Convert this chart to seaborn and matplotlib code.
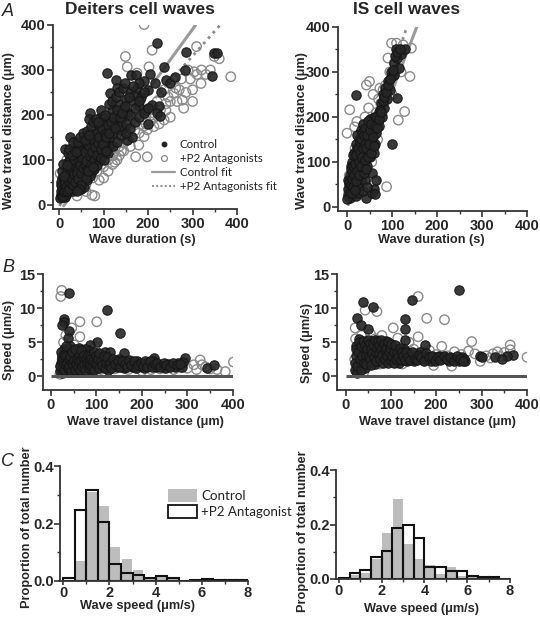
import numpy as np
import pandas as pd
import matplotlib
matplotlib.use("Agg")
import matplotlib.pyplot as plt
import seaborn as sns
from matplotlib.lines import Line2D
from matplotlib.patches import Patch
from matplotlib.ticker import MultipleLocator

# ---------------- data ----------------
# Panel A left: Deiters cell waves, (duration s, distance um)
dei_ctrl_A = [
    (3,22),(5,30),(8,25),(10,40),(4,45),(12,18),(15,35),(18,50),(7,60),(14,65),(20,28),(22,45),(25,60),
    (28,38),(30,75),(32,55),(35,90),(38,65),(40,45),(42,100),(45,80),(48,115),(50,60),(52,95),(55,125),
    (58,75),(60,105),(62,140),(65,90),(68,120),(70,150),(72,70),(75,110),(78,135),(80,160),(82,95),
    (85,145),(88,120),(90,175),(92,130),(95,155),(98,110),(100,180),(105,140),(108,165),(110,195),
    (115,150),(118,210),(120,175),(125,185),(130,200),(135,225),(140,190),(145,215),(150,235),(155,205),
    (160,250),(165,230),(170,245),(175,260),(180,220),(185,240),(190,275),(200,255),
    (219,359),(285,341),(349,338),(355,338),(343,287),(283,299),(108,294),(128,278),(162,289),(172,289),
    (180,270),(236,307),(241,278),(209,222),(224,219),(221,204),(227,198),(157,241),(130,259),(115,248),
    (70,204),(66,191),(93,196),(25,152),(12,124),(36,131),(100,144),(123,174),(138,167),(153,144),
    (164,152),(250,270),(260,285),(230,250),(200,180),(195,210),
    (5,50),(10,55),(15,80),(20,95),(25,105),(30,120),(35,110),(40,125),(45,130),(50,140),(55,100),
    (60,85),(65,70),(70,95),(75,80),(80,115),(85,100),(90,110),(20,70),(25,40),(30,30),(35,45),(40,60),
    (45,50),(50,35),(8,35),(12,50),(16,25),(27,85),(33,100),(44,95),(56,110),(64,125),(74,130),(86,160),
    (96,140),(104,120),(112,130),(120,160),(140,175),(150,180),(160,200),(170,215),(180,230),
    (2,15),(6,18),(9,20),(11,28),(13,32),(16,40),(18,30),(21,36),(23,52),(26,48),(29,58),(31,44),(34,68),
    (36,52),(39,78),(41,70),(43,58),(46,88),(49,72),(51,105),(53,82),(57,92),(59,118),(61,98),(63,78),
    (66,132),(69,108),(71,88),(73,118),(76,145),(79,100),(81,128),(84,112),(87,138),(89,152),(91,100),
    (94,125),(97,168),(99,135),(102,158),(106,150),(109,178),(113,160),(117,185),(121,195),(126,170),
    (131,210),(136,195),(142,205),(148,220),(6,75),(9,90),(11,65),(17,88),(19,115),(23,125),(28,110),
    (32,140),(38,118),(43,140),(47,150),(53,160),(57,145),(63,165),(67,155),(72,175),(77,185),(83,190),
    (88,185),(94,210),(103,200),(111,225),(119,230),(127,240),(134,250),(143,260),(147,270),(165,265),
    (190,250),(205,290),(215,270),
    (55,40),(62,55),(70,65),(78,80),(85,88),(95,105),(100,100),(110,115),(120,130),(130,140),(140,155),
    (150,160),(160,170),(170,185),(180,195),(190,205),(200,215),(60,60),(50,45),(45,35),(40,30),(65,75),
    (75,85),(105,120),
]
dei_p2_A = [
    (2,70),(5,20),(8,30),(10,45),(15,25),(17,100),(20,55),(25,35),(30,65),(35,40),(40,80),(45,55),(50,95),
    (55,65),(60,45),(65,110),(70,80),(74,22),(75,60),(80,100),(85,75),(90,120),(95,90),(100,85),(105,130),
    (110,100),(115,140),(120,110),(123,115),(130,159),(135,130),(140,150),(145,137),(150,170),(155,145),
    (160,180),(164,196),(170,165),(172,107),(175,200),(179,133),(183,233),(185,190),(191,152),(191,401),
    (195,180),(198,107),(198,167),(202,211),(202,307),(209,344),(210,200),(213,174),(220,230),(228,211),
    (236,189),(236,256),(245,240),(258,248),(258,278),(265,230),(270,256),(277,233),(285,250),(300,256),
    (300,230),(304,296),(309,352),(319,270),(330,290),(340,300),(349,330),(360,325),(386,285),(149,330),
    (175,293),(153,307),(280,215),(275,280),(290,300),(240,210),(250,195),(100,60),(120,90),(90,55),
    (60,30),(130,100),(140,120),(40,20),(80,20),(55,45),
    (110,75),(125,95),(135,110),(145,120),(160,130),(165,150),(180,160),(190,175),(205,185),(215,195),
    (225,180),(240,225),(250,230),(262,260),(295,280),(310,290),(320,300),(62,70),(72,90),(82,85),
    (92,100),(102,110),(115,120),
]
# Panel A right: IS cell waves
is_ctrl_A = [
    (2,25),(4,35),(5,50),(6,20),(8,60),(10,40),(12,75),(14,30),(15,95),(16,55),(18,110),(20,70),(20,25),
    (22,130),(24,90),(25,45),(26,150),(28,105),(30,60),(30,170),(32,125),(34,80),(35,140),(36,185),
    (38,100),(40,155),(40,60),(42,120),(44,175),(45,90),(46,140),(48,160),(50,110),(50,195),(52,130),
    (55,150),(55,75),(58,170),(60,120),(60,200),(62,140),(65,165),(68,190),(70,210),(72,180),(75,230),
    (78,200),(80,250),(82,220),(85,265),(88,240),(90,280),(95,260),(98,300),(100,290),(104,294),
    (105,320),(108,351),(110,242),(112,330),(115,308),(120,340),(128,350),(99,141),(19,248),(43,19),
    (24,30),(55,30),(60,40),(35,35),(45,45),(65,60),(3,60),(8,90),(12,100),(16,120),
    (1,18),(3,40),(4,55),(6,32),(7,70),(9,48),(9,85),(11,62),(11,30),(13,45),(13,90),(14,115),(16,72),
    (17,38),(18,95),(19,140),(21,58),(21,115),(23,80),(23,160),(25,130),(26,100),(27,70),(28,145),
    (29,120),(31,90),(31,150),(33,110),(33,165),(35,130),(37,75),(37,160),(39,140),(41,105),(41,175),
    (43,130),(43,85),(45,160),(47,110),(47,190),(49,140),(51,170),(53,120),(54,185),(57,155),(59,135),
    (62,180),(64,200),(67,175),(70,195),(73,215),(76,210),(79,235),(83,245),(86,255),(92,270),(96,285),
    (102,305),(106,335),(111,345),(117,350),(62,28),
]
is_p2_A = [
    (0,164),(6,216),(17,178),(43,271),(50,279),(62,56),(88,45),(91,331),(80,260),(73,264),(99,364),
    (110,364),(143,353),(140,290),(128,212),(114,193),(5,70),(10,40),(15,25),(20,100),(25,60),(30,140),
    (35,90),(40,200),(45,120),(50,160),(55,100),(60,180),(65,210),(70,240),(75,230),(85,270),(95,300),
    (105,320),(115,340),(125,360),(8,30),(12,55),(3,28),(28,35),(18,130),(22,190),(33,75),(38,180),
    (48,220),(58,250),(68,150),(78,205),(100,250),(120,300),
]
# Panel B left: Deiters, (travel distance um, speed um/s)
dei_ctrl_B = [
    (39,12.2),(28,8.4),(28,8.0),(24,7.5),(123,9.7),(151,6.4),(40,6.6),(37,5.6),(101,5.1),(86,4.6),
    (160,3.4),(226,2.7),(295,2.7),(343,1.2),(358,1.7),
    (20,0.8),(22,2.0),(25,3.0),(27,1.2),(30,4.0),(32,2.5),(35,0.6),(38,1.8),(40,3.5),(42,4.5),(45,1.0),
    (48,2.8),(50,3.9),(52,1.5),(55,2.2),(58,3.2),(60,0.9),(62,4.2),(65,1.8),(68,2.7),(70,3.6),(72,1.2),
    (75,2.2),(78,3.0),(80,1.5),(82,3.8),(85,2.5),(88,1.0),(90,2.0),(92,3.2),(95,1.6),(98,2.6),(100,1.2),
    (105,3.0),(108,2.0),(110,1.4),(115,2.5),(118,3.5),(120,1.8),(125,1.0),(128,2.4),(130,3.5),(135,1.6),
    (140,2.2),(145,1.3),(150,2.6),(155,1.8),(160,1.2),(165,2.2),(170,1.6),(175,2.0),(180,1.3),(185,1.8),
    (190,2.2),(195,1.5),(200,1.7),(205,1.2),(210,2.0),(215,1.5),(220,1.8),(225,2.2),(230,1.4),(238,1.7),
    (245,1.5),(250,1.2),(258,1.8),(265,1.6),(272,1.3),(280,1.9),(288,1.4),(290,2.1),(30,1.5),(45,2.2),
    (55,3.0),(65,3.0),(75,4.0),(25,2.5),(35,3.5),(50,0.8),
    (21,1.5),(23,3.5),(24,0.5),(26,2.2),(28,3.2),(29,0.9),(31,1.8),(33,3.0),(34,4.5),(36,2.0),(37,1.2),
    (39,2.6),(41,1.5),(43,3.0),(44,0.8),(46,2.0),(47,3.6),(49,1.6),(51,2.4),(53,4.0),(54,1.0),(56,1.8),
    (57,2.6),(59,1.4),(61,3.0),(63,2.2),(64,1.0),(66,2.4),(67,3.8),(69,1.5),(71,2.8),(73,1.8),(74,3.2),
    (76,1.0),(77,2.6),(79,2.0),(81,3.2),(83,1.2),(84,2.0),(86,3.0),(87,1.6),(89,2.6),(91,1.3),(93,2.3),
    (94,3.6),(96,1.0),(97,2.0),(99,3.0),(102,1.8),(103,2.6),(106,1.2),(107,3.4),(111,2.2),(113,1.6),
    (116,3.0),(119,1.2),(122,2.0),(124,2.8),(127,1.6),(131,2.0),(133,1.2),(137,2.6),(142,1.8),(147,2.2),
    (152,1.4),(157,2.2),(162,1.8),(167,1.4),(172,2.4),(177,1.6),(182,2.2),(187,1.2),(192,1.6),(197,2.0),
    (203,1.5),(207,2.2),(212,1.3),(218,2.2),(222,1.4),(228,1.8),(233,2.0),(240,1.4),(248,1.9),(253,1.6),
    (262,1.3),(268,2.0),(276,1.6),(284,1.8),
]
dei_p2_B = [
    (24,12.6),(22,11.7),(64,8.0),(101,8.0),(46,7.1),(64,5.8),(97,4.4),(328,2.4),(332,1.7),(383,0.7),
    (401,2.1),(314,1.7),(255,1.2),(20,0.3),(22,1.5),(25,2.5),(28,5.0),(30,0.5),(35,1.0),(40,2.0),
    (45,3.0),(50,0.6),(55,1.5),(60,2.5),(70,0.8),(75,1.7),(80,2.8),(90,0.9),(95,1.9),(110,1.0),
    (120,2.0),(140,1.1),(150,1.5),(170,1.0),(190,1.2),(200,0.8),(220,1.0),(240,1.1),(270,1.0),(285,1.3),
    (300,1.2),(320,1.0),(340,1.4),(350,1.1),(365,1.0),(42,4.0),(52,4.6),(33,6.0),
]
# Panel B right: IS
is_ctrl_B = [
    (249,12.6),(39,10.9),(61,10.1),(147,11.2),(26,8.5),(35,7.5),(50,7.0),(131,8.4),(131,7.0),(131,5.4),
    (175,4.6),(264,2.2),(297,3.0),(370,3.2),(355,3.0),(300,2.8),
    (20,1.0),(22,3.0),(24,4.5),(26,0.5),(28,2.0),(30,5.5),(32,3.5),(34,1.5),(36,4.8),(38,2.5),(40,3.8),
    (42,1.2),(45,5.0),(48,2.8),(50,4.2),(52,2.0),(55,3.2),(58,5.2),(60,2.4),(62,3.8),(65,1.8),(68,4.6),
    (70,3.0),(72,2.2),(75,5.0),(78,3.6),(80,2.6),(82,4.4),(85,3.0),(88,5.2),(90,2.2),(92,3.8),(95,4.6),
    (98,2.8),(100,3.4),(105,4.2),(108,2.4),(110,3.0),(115,3.8),(118,2.0),(120,3.2),(125,2.6),(128,4.0),
    (132,3.0),(135,2.2),(140,3.4),(145,2.8),(150,2.2),(155,3.2),(160,2.6),(165,3.6),(170,2.4),(175,3.0),
    (180,2.6),(188,2.2),(195,2.8),(200,2.5),(205,3.0),(212,2.6),(220,2.8),(228,2.3),(235,2.7),(242,2.5),
    (250,2.2),(256,2.9),(262,2.6),(330,2.8),(345,2.6),
    (21,2.0),(23,4.0),(25,1.5),(27,3.5),(29,5.0),(31,2.5),(33,4.4),(35,1.0),(37,3.0),(39,5.2),(41,2.0),
    (43,4.6),(44,3.2),(46,1.8),(47,4.0),(49,5.4),(51,3.0),(53,4.8),(54,2.6),(56,4.0),(57,1.6),(59,3.4),
    (61,4.8),(63,2.8),(64,5.4),(66,3.6),(67,2.2),(69,4.2),(71,5.2),(73,3.4),(74,4.6),(76,2.6),(77,4.0),
    (79,5.4),(81,3.2),(83,2.0),(84,4.8),(86,3.8),(87,2.6),(89,4.2),(91,3.0),(93,5.0),(94,2.0),(96,3.6),
    (97,4.2),(99,2.4),(101,4.8),(103,3.0),(106,2.0),(107,3.6),(109,4.6),(112,2.6),(113,3.4),(116,2.8),
    (119,4.2),(122,2.4),(124,3.6),(127,3.0),(130,2.4),(134,3.6),(137,2.8),(142,2.4),(147,3.6),(152,2.6),
    (157,2.4),(162,3.2),(167,2.8),(172,2.2),(178,3.4),(184,2.8),(191,3.0),(198,2.2),(203,2.8),(208,2.4),
    (216,3.0),(224,2.5),(231,2.8),(238,2.2),(246,3.0),(253,2.5),(259,2.2),
]
is_p2_B = [
    (160,11.7),(179,8.5),(218,8.3),(43,9.7),(69,9.5),(21,7.1),(105,7.1),(278,5.1),(363,4.6),(363,3.9),
    (400,2.8),(297,2.2),(341,2.9),(319,2.7),(194,1.6),(234,1.5),(153,3.4),(212,4.4),(271,3.7),(20,2.5),
    (22,5.5),(25,0.8),(30,1.5),(35,6.0),(40,0.6),(50,2.0),(55,6.2),(65,5.5),(75,1.8),(80,6.0),(95,4.8),
    (110,2.0),(115,5.6),(125,1.8),(140,5.0),(150,4.0),(160,5.8),(170,3.5),(185,3.8),(200,3.2),(225,3.0),
    (240,3.6),(255,3.2),(285,3.3),(310,3.0),(325,3.3),(350,3.5),(335,3.6),
]
# Fit lines (end points)
dei_ctrl_fit_x = [10, 307]
dei_ctrl_fit_y = [-2, 400]
dei_p2_fit_x = [0, 364]
dei_p2_fit_y = [-2, 402]
is_ctrl_fit_x = [3, 155]
is_ctrl_fit_y = [5, 400]
is_p2_fit_x = [2, 133]
is_p2_fit_y = [6, 400]

# Panel C: histograms of wave speed (proportion of total number), bins of 0.5 um/s
bin_left = [0.0, 0.5, 1.0, 1.5, 2.0, 2.5, 3.0, 3.5, 4.0, 4.5, 5.0, 5.5, 6.0, 6.5, 7.0, 7.5]
bin_edges = bin_left + [8.0]
dei_hist_ctrl = [0.005, 0.071, 0.31, 0.26, 0.117, 0.077, 0.037, 0.012, 0.017, 0.014, 0.0, 0.0, 0.008, 0.002, 0.0, 0.0]
dei_hist_p2 = [0.009, 0.246, 0.318, 0.206, 0.059, 0.029, 0.021, 0.011, 0.018, 0.009, 0.0, 0.002, 0.006, 0.003, 0.002, 0.002]
is_hist_ctrl = [0.003, 0.015, 0.021, 0.074, 0.17, 0.293, 0.127, 0.074, 0.052, 0.018, 0.045, 0.012, 0.006, 0.004, 0.002, 0.0]
is_hist_p2 = [0.005, 0.021, 0.033, 0.08, 0.102, 0.188, 0.2, 0.15, 0.043, 0.043, 0.031, 0.031, 0.01, 0.006, 0.009, 0.0]

# ---------------- styling ----------------
sns.set_style("ticks")
plt.rcParams["font.family"] = ["Liberation Sans", "DejaVu Sans"]
plt.rcParams["font.weight"] = "bold"
plt.rcParams["axes.edgecolor"] = "#333333"
plt.rcParams["axes.linewidth"] = 1.3

W, H = 540, 619
fig = plt.figure(figsize=(W / 100, H / 100), dpi=100)

def add_ax(l, t, r, b):
    return fig.add_axes([l / W, 1 - b / H, (r - l) / W, (b - t) / H])

def ftext(x, y, s, **kw):
    fig.text(x / W, 1 - y / H, s, ha=kw.pop("ha", "center"), va=kw.pop("va", "center"), **kw)

CTRL_FACE = "#262626"
P2_EDGE = "#8a8a8a"
MS = 46

def style_axis(ax, pad=1.5):
    ax.tick_params(which="major", direction="out", length=4, width=1.2, labelsize=10.5, pad=pad, color="#333333")
    ax.tick_params(which="minor", direction="out", length=2.2, width=1.0, color="#333333")
    for sp in ("top", "right"):
        ax.spines[sp].set_visible(False)
    ax.set_xlabel("")
    ax.set_ylabel("")

def scatter_panel(ax, ctrl, p2):
    cdf = pd.DataFrame(ctrl, columns=["x", "y"])
    pdf = pd.DataFrame(p2, columns=["x", "y"])
    sns.scatterplot(data=pdf, x="x", y="y", ax=ax, s=MS, facecolor="none",
                    edgecolor=P2_EDGE, linewidth=1.0, zorder=2, clip_on=True)
    sns.scatterplot(data=cdf, x="x", y="y", ax=ax, s=MS, color=CTRL_FACE,
                    edgecolor="#141414", linewidth=0.8, alpha=0.9, zorder=3, clip_on=True)

# ---- Panel A left
axA1 = add_ax(53, 25, 237, 209)
sns.lineplot(x=dei_ctrl_fit_x, y=dei_ctrl_fit_y, ax=axA1, color="#9a9a9a", lw=2.2, zorder=1)
sns.lineplot(x=dei_p2_fit_x, y=dei_p2_fit_y, ax=axA1, color="#8a8a8a", lw=2.0, ls=(0, (1, 1.6)), zorder=1)
scatter_panel(axA1, dei_ctrl_A, dei_p2_A)
axA1.set_xlim(-14, 400); axA1.set_ylim(-9, 400)

# ---- Panel A right
axA2 = add_ax(338, 27, 527, 211)
sns.lineplot(x=is_ctrl_fit_x, y=is_ctrl_fit_y, ax=axA2, color="#9a9a9a", lw=2.2, zorder=1)
sns.lineplot(x=is_p2_fit_x, y=is_p2_fit_y, ax=axA2, color="#8a8a8a", lw=2.0, ls=(0, (1, 1.6)), zorder=1)
scatter_panel(axA2, is_ctrl_A, is_p2_A)
axA2.set_xlim(-20, 400); axA2.set_ylim(-9, 400)

for ax in (axA1, axA2):
    ax.set_xticks([0, 100, 200, 300, 400]); ax.set_yticks([0, 100, 200, 300, 400])
    ax.xaxis.set_minor_locator(MultipleLocator(50)); ax.yaxis.set_minor_locator(MultipleLocator(50))
    style_axis(ax)

# ---- Panel B
axB1 = add_ax(43, 274, 233, 390)
scatter_panel(axB1, dei_ctrl_B, dei_p2_B)
axB1.set_xlim(-17, 400); axB1.set_ylim(-2, 15)
axB2 = add_ax(337, 274, 527, 390)
scatter_panel(axB2, is_ctrl_B, is_p2_B)
axB2.set_xlim(-19, 400); axB2.set_ylim(-2, 15)
for ax in (axB1, axB2):
    ax.hlines(0, 0, 400, color="#555555", lw=2.2, zorder=5)
    ax.set_xticks([0, 100, 200, 300, 400]); ax.set_yticks([0, 5, 10, 15])
    ax.xaxis.set_minor_locator(MultipleLocator(50)); ax.yaxis.set_minor_locator(MultipleLocator(2.5))
    style_axis(ax)

# ---- Panel C
def hist_panel(ax, ctrl, p2):
    sns.histplot(x=bin_left, weights=ctrl, bins=bin_edges, ax=ax, stat="count", color="#bdbdbd",
                 alpha=1.0, edgecolor="none", linewidth=0, shrink=0.9, zorder=1)
    sns.histplot(x=bin_left, weights=p2, bins=bin_edges, ax=ax, stat="count", fill=False,
                 color="#111111", linewidth=1.5, zorder=2)
    ax.set_xlim(-0.14, 8); ax.set_ylim(0, 0.4)
    ax.set_xticks([0, 2, 4, 6, 8]); ax.set_yticks([0.0, 0.2, 0.4])
    ax.set_yticklabels(["0.0", "0.2", "0.4"])
    ax.xaxis.set_minor_locator(MultipleLocator(1)); ax.yaxis.set_minor_locator(MultipleLocator(0.1))
    style_axis(ax, pad=0.5)
    ax.tick_params(axis="x", which="major", length=3)

axC1 = add_ax(60, 466, 248, 581)
hist_panel(axC1, dei_hist_ctrl, dei_hist_p2)
axC2 = add_ax(336, 470, 510, 579)
hist_panel(axC2, is_hist_ctrl, is_hist_p2)

# ---------------- legends ----------------
leg_font = {"family": ["Lato", "DejaVu Sans"], "weight": "normal", "size": 8.3}
hA = [
    Line2D([], [], marker="o", ls="none", color="#222222", markersize=3.2),
    Line2D([], [], marker="o", ls="none", mfc="none", mec=P2_EDGE, markersize=4.2, mew=0.9),
    Line2D([], [], color="#9a9a9a", lw=1.6),
    Line2D([], [], color="#8a8a8a", lw=1.4, ls=(0, (1, 1.2))),
]
lA = fig.legend(hA, ["Control", "+P2 Antagonists", "Control fit", "+P2 Antagonists fit"],
                loc="upper left", bbox_to_anchor=(152 / W, 1 - 139 / H), frameon=False,
                prop=leg_font, handlelength=2.0, handletextpad=0.4, labelspacing=0.25,
                borderpad=0, borderaxespad=0)
for t in lA.get_texts():
    t.set_color("#222222")

hC = [Patch(facecolor="#bdbdbd", edgecolor="none"),
      Patch(facecolor="white", edgecolor="#111111", lw=1.3)]
lC = fig.legend(hC, ["Control", "+P2 Antagonist"], loc="upper left",
                bbox_to_anchor=(168 / W, 1 - 489 / H), frameon=False,
                prop={"family": ["Lato", "DejaVu Sans"], "weight": "normal", "size": 9.6},
                handlelength=2.2, handleheight=1.1, handletextpad=0.3, labelspacing=0.25,
                borderpad=0, borderaxespad=0)
for t in lC.get_texts():
    t.set_color("#222222")

# ---------------- titles, labels ----------------
ftext(140, 10, "Deiters cell waves", fontsize=12.5, fontweight="bold")
ftext(407, 10, "IS cell waves", fontsize=12.5, fontweight="bold")
for (x, y, s) in [(8, 11, "A"), (8, 268, "B"), (8, 461, "C")]:
    ftext(x, y, s, fontsize=13, fontstyle="italic", fontweight="normal")

LF = 9.2
ftext(142, 240, "Wave duration (s)", fontsize=LF, fontweight="bold")
ftext(431, 240, "Wave duration (s)", fontsize=LF, fontweight="bold")
ftext(9, 131, "Wave travel distance (μm)", fontsize=LF, fontweight="bold", rotation=90)
ftext(302, 131, "Wave travel distance (μm)", fontsize=LF, fontweight="bold", rotation=90)
ftext(9, 340, "Speed (μm/s)", fontsize=LF, fontweight="bold", rotation=90)
ftext(307, 343, "Speed (μm/s)", fontsize=LF, fontweight="bold", rotation=90)
ftext(145, 422, "Wave travel distance (μm)", fontsize=LF, fontweight="bold")
ftext(437, 422, "Wave travel distance (μm)", fontsize=LF, fontweight="bold")
ftext(27, 527, "Proportion of total number", fontsize=LF, fontweight="bold", rotation=90)
ftext(303, 531, "Proportion of total number", fontsize=LF, fontweight="bold", rotation=90)
ftext(138, 606, "Wave speed (μm/s)", fontsize=LF, fontweight="bold")
ftext(422, 609, "Wave speed (μm/s)", fontsize=LF, fontweight="bold")

fig.savefig("out.png", dpi=100)
